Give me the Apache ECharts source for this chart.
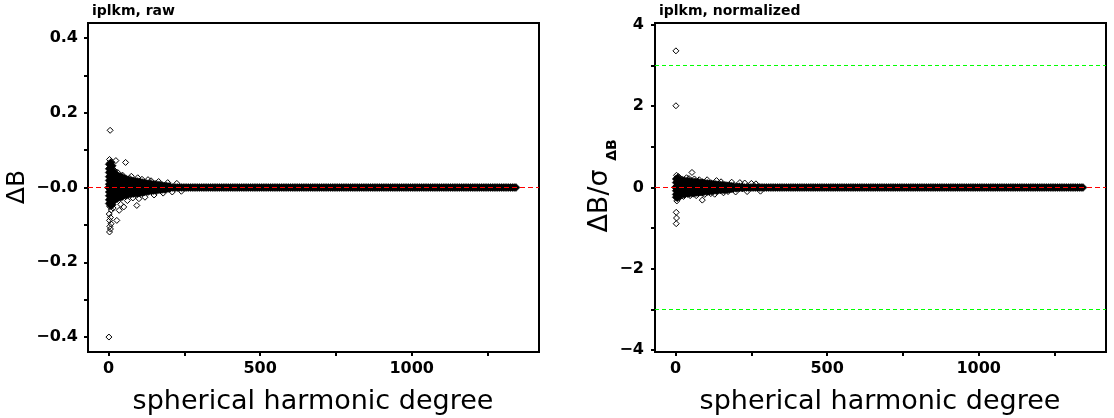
<!DOCTYPE html>
<html><head><meta charset="utf-8">
<script src="https://cdn.jsdelivr.net/npm/echarts@6/dist/echarts.min.js"></script>
<style>html,body{margin:0;padding:0;background:#fff}#c{width:1114px;height:418px}</style>
</head><body><div id="c"></div><script>
// ---------------- data ----------------
const panelTitles = ['iplkm, raw', 'iplkm, normalized'];
const xTitle = 'spherical harmonic degree';
const xRange = [-68, 1420];
const xTickValues = [0, 250, 500, 750, 1000, 1250];
const xLabelValues = [0, 500, 1000];
const xLabelTexts = ['0', '500', '1000'];
const rawRange = [-0.44, 0.44];
const rawTickValues = [-0.4, -0.3, -0.2, -0.1, 0, 0.1, 0.2, 0.3, 0.4];
const rawLabelValues = [-0.4, -0.2, 0, 0.2, 0.4];
const rawLabelTexts = ['\u22120.4', '\u22120.2', '\u22120.0', '0.2', '0.4'];
const normRange = [-4.045, 4.045];
const normTickValues = [-4, -3, -2, -1, 0, 1, 2, 3, 4];
const normLabelValues = [-4, -2, 0, 2, 4];
const normLabelTexts = ['\u22124', '\u22122', '0', '2', '4'];
const normLimits = [-3, 3];   // green reference lines
const zeroLevel = 0;          // red reference line

// degrees where the coefficients merge into one dense band at zero (value read as 0)
const bandDegrees = [0,6,12,18,24,30,36,42,48,54,60,66,72,78,84,90,96,102,108,114,120,126,132,138,144,150,156,162,168,174,180,186,192,198,204,210,216,222,228,234,240,246,252,258,264,270,276,282,288,294,300,306,312,318,324,330,336,342,348,354,360,366,372,378,384,390,396,402,408,414,420,426,432,438,444,450,456,462,468,474,480,486,492,498,504,510,516,522,528,534,540,546,552,558,564,570,576,582,588,594,600,606,612,618,624,630,636,642,648,654,660,666,672,678,684,690,696,702,708,714,720,726,732,738,744,750,756,762,768,774,780,786,792,798,804,810,816,822,828,834,840,846,852,858,864,870,876,882,888,894,900,906,912,918,924,930,936,942,948,954,960,966,972,978,984,990,996,1002,1008,1014,1020,1026,1032,1038,1044,1050,1056,1062,1068,1074,1080,1086,1092,1098,1104,1110,1116,1122,1128,1134,1140,1146,1152,1158,1164,1170,1176,1182,1188,1194,1200,1206,1212,1218,1224,1230,1236,1242,1248,1254,1260,1266,1272,1278,1284,1290,1296,1302,1308,1314,1320,1326,1332,1338,1344];
const bandValue = 0;

// raw: dense core of low degrees
const rawCore = [
 [2,0.062],[2,0.050],[2,0.040],[2,0.029],[2,0.019],[2,0.009],[2,-0.002],[2,-0.012],[2,-0.022],[2,-0.033],[2,-0.043],
 [7,0.066],[7,0.054],[7,0.043],[7,0.032],[7,0.021],[7,0.011],[7,0.000],[7,-0.010],[7,-0.021],[7,-0.031],[7,-0.041],[7,-0.048],
 [12,0.058],[12,0.046],[12,0.035],[12,0.024],[12,0.013],[12,0.004],[12,-0.007],[12,-0.018],[12,-0.028],[12,-0.039],[12,-0.046],
 [17,0.041],[17,0.029],[17,0.018],[17,0.007],[17,-0.004],[17,-0.015],[17,-0.026],[17,-0.036],
 [22,0.036],[22,0.024],[22,0.013],[22,0.002],[22,-0.009],[22,-0.020],[22,-0.031],
 [28,0.033],[28,0.022],[28,0.011],[28,-0.001],[28,-0.012],[28,-0.023],[28,-0.030],
 [34,0.030],[34,0.019],[34,0.008],[34,-0.003],[34,-0.014],[34,-0.026],
 [40,0.029],[40,0.017],[40,0.006],[40,-0.005],[40,-0.016],[40,-0.026],
 [46,0.027],[46,0.015],[46,0.004],[46,-0.007],[46,-0.018],[46,-0.024],
 [52,0.024],[52,0.013],[52,0.002],[52,-0.009],[52,-0.020],
 [58,0.023],[58,0.011],[58,0.000],[58,-0.011],[58,-0.021],
 [64,0.020],[64,0.008],[64,-0.003],[64,-0.014],[64,-0.019],
 [70,0.019],[70,0.007],[70,-0.004],[70,-0.016],
 [76,0.018],[76,0.006],[76,-0.005],[76,-0.017],
 [82,0.017],[82,0.005],[82,-0.006],[82,-0.016],
 [88,0.017],[88,0.004],[88,-0.007],[88,-0.015],
 [94,0.016],[94,0.004],[94,-0.008],[94,-0.016],
 [100,0.015],[100,0.003],[100,-0.007],[100,-0.015],
 [106,0.014],[106,0.002],[106,-0.009],[106,-0.014],
 [112,0.013],[112,0.002],[112,-0.008],[112,-0.013],
 [118,0.012],[118,-0.001],[118,-0.012],
 [124,0.011],[124,0.001],[124,-0.010],
 [130,0.010],[130,-0.001],[130,-0.011],
 [136,0.010],[136,-0.009],[142,0.009],[142,-0.009],[148,0.009],[148,-0.008],
 [154,0.008],[154,-0.008],[160,0.007],[160,-0.007],[166,0.007],[166,-0.006],
 [172,0.006],[172,-0.006],[178,0.005],[178,-0.005],[184,0.004],[184,-0.005],
 [190,0.004],[190,-0.004],[196,0.003],[196,-0.003],[202,0.003],[202,-0.002]
];
// raw: scattered coefficients outside the core
const rawScatter = [
 [5,0.153],[1,-0.400],
 [3,0.075],[9,0.069],[6,0.060],[4,-0.051],[9,-0.060],[2,-0.071],[6,-0.080],[3,-0.088],[8,-0.097],[4,-0.104],[6,-0.111],[3,-0.119],
 [15,-0.055],[20,0.045],[24,0.072],[27,-0.088],[30,0.040],[35,-0.061],[40,-0.045],[46,0.033],[50,-0.052],[56,0.067],
 [62,-0.035],[70,0.024],[75,0.030],[80,-0.028],[93,-0.048],[96,0.026],[100,-0.030],[110,0.022],[120,-0.026],[130,0.021],
 [140,0.018],[150,-0.020],[165,0.016],[180,-0.015],[195,0.013],[210,-0.012],[225,0.011],[240,-0.010]
];

// normalized: dense core of low degrees
const normCore = [
 [2,0.21],[2,0.12],[2,0.02],[2,-0.08],[2,-0.17],[2,-0.24],
 [6,0.23],[6,0.13],[6,0.04],[6,-0.06],[6,-0.15],[6,-0.25],
 [11,0.19],[11,0.09],[11,-0.01],[11,-0.11],[11,-0.20],
 [16,0.17],[16,0.08],[16,-0.02],[16,-0.12],[16,-0.18],
 [22,0.16],[22,0.06],[22,-0.04],[22,-0.14],
 [28,0.17],[28,0.07],[28,-0.03],[28,-0.13],[28,-0.17],
 [34,0.15],[34,0.05],[34,-0.05],[34,-0.14],
 [40,0.16],[40,0.06],[40,-0.04],[40,-0.15],
 [46,0.14],[46,0.04],[46,-0.06],[46,-0.14],
 [52,0.15],[52,0.05],[52,-0.05],[52,-0.13],
 [58,0.13],[58,0.03],[58,-0.07],[58,-0.14],
 [64,0.14],[64,0.04],[64,-0.06],[64,-0.13],
 [70,0.12],[70,0.02],[70,-0.08],[70,-0.12],
 [76,0.13],[76,0.03],[76,-0.07],[76,-0.12],
 [82,0.11],[82,0.01],[82,-0.09],[82,-0.11],
 [88,0.12],[88,0.02],[88,-0.08],[88,-0.12],
 [94,0.11],[94,0.00],[94,-0.10],[100,0.10],[100,0.01],[100,-0.09],
 [106,0.10],[106,-0.01],[106,-0.10],[112,0.09],[112,0.00],[112,-0.09],
 [118,0.09],[118,-0.01],[118,-0.08],
 [124,0.08],[124,-0.08],[130,0.08],[130,-0.07],[136,0.07],[136,-0.08],[142,0.07],[142,-0.06],
 [148,0.06],[148,-0.06],[154,0.06],[154,-0.05],[160,0.05],[160,-0.06],[166,0.05],[166,-0.04],
 [172,0.04],[172,-0.05],[178,0.04],[178,-0.04],[184,0.03],[184,-0.03],[190,0.03],[190,-0.03],
 [200,0.02],[200,-0.02],[210,0.02],[210,-0.01],[220,0.01],[220,-0.01]
];
// normalized: scattered coefficients outside the core
const normScatter = [
 [1,3.36],[1,2.01],
 [3,0.30],[9,0.27],[4,-0.33],[2,-0.61],[3,-0.75],[2,-0.89],[12,0.24],[14,-0.24],[20,0.21],[26,-0.22],
 [36,0.24],[54,0.37],[44,0.22],[48,-0.20],[62,0.21],[68,-0.20],[78,0.19],[88,-0.31],[96,-0.17],[104,0.19],
 [116,-0.15],[129,-0.165],[135,0.17],[150,0.14],[158,-0.13],[173,-0.10],[185,0.13],[198,-0.11],[212,0.12],
 [228,0.11],[236,-0.10],[250,0.10],[265,0.09],[280,-0.09]
];

// ---------------- chart ----------------
const FONT = 'DejaVu Sans';
const chart = echarts.init(document.getElementById('c'), null, {renderer: 'canvas'});

function labelFor(values, texts) {
  return v => { for (let i = 0; i < values.length; i++) if (Math.abs(values[i] - v) < 1e-9) return texts[i]; return ''; };
}
function xAxisFor(gi) {
  return {gridIndex: gi, type: 'value', min: xRange[0], max: xRange[1],
    axisLine: {show: true, onZero: false, lineStyle: {color: '#000', width: 2}},
    axisTick: {show: true, inside: false, length: 4, lineStyle: {color: '#000', width: 2}, customValues: xTickValues},
    axisLabel: {customValues: xLabelValues, formatter: labelFor(xLabelValues, xLabelTexts), margin: 9,
      color: '#000', fontFamily: FONT, fontWeight: 'bold', fontSize: 16},
    splitLine: {show: false}};
}
function yAxisFor(gi, rng, tv, lv, lt, margin) {
  return {gridIndex: gi, type: 'value', min: rng[0], max: rng[1],
    axisLine: {show: true, onZero: false, lineStyle: {color: '#000', width: 2}},
    axisTick: {show: true, inside: false, length: 4, lineStyle: {color: '#000', width: 2}, customValues: tv},
    axisLabel: {customValues: lv, formatter: labelFor(lv, lt), margin: margin,
      color: '#000', fontFamily: FONT, fontWeight: 'bold', fontSize: 16},
    splitLine: {show: false}};
}
function scatter(gi, data, filled, size, z) {
  return {type: 'scatter', xAxisIndex: gi, yAxisIndex: gi, data: data, symbol: 'diamond',
    symbolSize: size, z: z, silent: true, animation: false,
    itemStyle: filled
      ? {color: '#000000', borderColor: '#000000', borderWidth: 0.5, opacity: 1}
      : {color: 'rgba(255,255,255,0)', borderColor: '#000000', borderWidth: 1, opacity: 1},
    emphasis: {disabled: true}};
}
function refLine(gi, level, color, dash) {
  return {type: 'line', xAxisIndex: gi, yAxisIndex: gi, z: 10, silent: true, animation: false,
    data: [[xRange[0], level], [xRange[1], level]], showSymbol: false, symbol: 'none',
    itemStyle: {color: color}, lineStyle: {color: color, width: 1, type: dash, opacity: 1},
    emphasis: {disabled: true}};
}
const band = bandDegrees.map(d => [d, bandValue]);

const option = {
  backgroundColor: '#fff',
  animation: false,
  title: [
    {text: panelTitles[0], left: 92, top: 4, padding: 0,
     textStyle: {fontFamily: FONT, fontWeight: 'bold', fontSize: 14, color: '#000'}},
    {text: panelTitles[1], left: 659, top: 4, padding: 0,
     textStyle: {fontFamily: FONT, fontWeight: 'bold', fontSize: 14, color: '#000'}}
  ],
  grid: [
    {left: 88, right: 575, top: 23, bottom: 66, show: true, borderColor: '#000', borderWidth: 2, backgroundColor: 'transparent'},
    {left: 655, right: 8, top: 23, bottom: 66, show: true, borderColor: '#000', borderWidth: 2, backgroundColor: 'transparent'}
  ],
  xAxis: [xAxisFor(0), xAxisFor(1)],
  yAxis: [
    yAxisFor(0, rawRange, rawTickValues, rawLabelValues, rawLabelTexts, 10),
    yAxisFor(1, normRange, normTickValues, normLabelValues, normLabelTexts, 11)
  ],
  graphic: [
    {type: 'text', x: 17, y: 187, rotation: Math.PI / 2,
     style: {text: '\u0394B', font: '25px "DejaVu Sans"', fill: '#000', align: 'center', verticalAlign: 'middle'}},
    {type: 'text', x: 600, y: 201, rotation: Math.PI / 2,
     style: {text: '\u0394B/\u03c3', font: '27px "DejaVu Sans"', fill: '#000', align: 'center', verticalAlign: 'middle'}},
    {type: 'text', x: 612, y: 150, rotation: Math.PI / 2,
     style: {text: '\u0394B', font: 'bold 14px "DejaVu Sans"', fill: '#000', align: 'center', verticalAlign: 'middle'}},
    {type: 'text', x: 313, y: 402, style: {text: xTitle, font: '27px "DejaVu Sans"', fill: '#000', align: 'center', verticalAlign: 'middle'}},
    {type: 'text', x: 880, y: 402, style: {text: xTitle, font: '27px "DejaVu Sans"', fill: '#000', align: 'center', verticalAlign: 'middle'}}
  ],
  series: [
    scatter(0, band, true, 8, 2),
    scatter(0, rawCore, true, 8, 3),
    scatter(0, rawScatter, false, 6, 4),
    refLine(0, zeroLevel, '#ff0000', [5, 3]),
    scatter(1, band, true, 8, 2),
    scatter(1, normCore, true, 8, 3),
    scatter(1, normScatter, false, 6, 4),
    refLine(1, zeroLevel, '#ff0000', [5, 3]),
    refLine(1, normLimits[0], '#00ff00', [4, 3]),
    refLine(1, normLimits[1], '#00ff00', [4, 3])
  ]
};
chart.setOption(option);
</script></body></html>
